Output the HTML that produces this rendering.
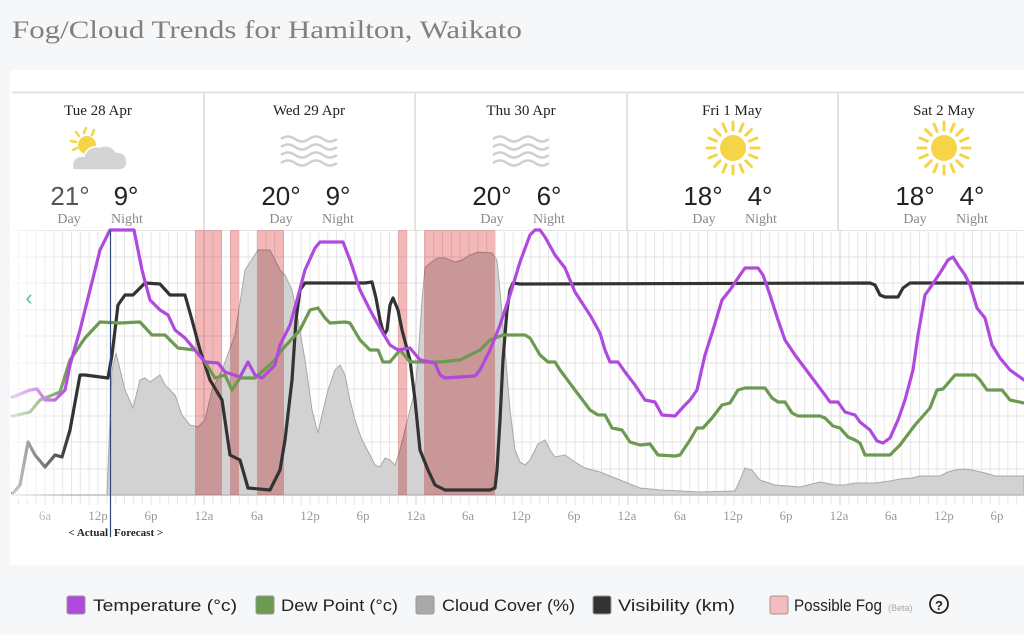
<!DOCTYPE html>
<html><head><meta charset="utf-8"><style>
body{margin:0;background:#f6f7f8;width:1024px;height:635px;overflow:hidden;font-family:"Liberation Serif",serif;}
svg{display:block}
</style></head><body>
<svg width="1024" height="635" viewBox="0 0 1024 635" xmlns="http://www.w3.org/2000/svg">
<defs>
<linearGradient id="fade" x1="0" x2="1" y1="0" y2="0">
<stop offset="0" stop-color="#fff" stop-opacity="0.75"/>
<stop offset="1" stop-color="#fff" stop-opacity="0"/>
</linearGradient>
</defs>
<rect width="1024" height="635" fill="#f6f7f8"/>
<text x="12" y="38" font-family="Liberation Serif,serif" font-size="25" fill="#808080" textLength="510" lengthAdjust="spacingAndGlyphs">Fog/Cloud Trends for Hamilton, Waikato</text>
<rect x="10" y="70" width="1014" height="495" fill="#fff"/>
<line x1="12" y1="92.5" x2="1024" y2="92.5" stroke="#e2e2e2" stroke-width="2"/>
<g stroke="#e2e2e2" stroke-width="2">
<line x1="204" y1="92" x2="204" y2="230"/><line x1="415" y1="92" x2="415" y2="230"/>
<line x1="627" y1="92" x2="627" y2="230"/><line x1="838" y1="92" x2="838" y2="230"/>
</g>
<g font-size="15" fill="#222" text-anchor="middle" font-family="Liberation Serif,serif">
<text x="98" y="115">Tue 28 Apr</text><text x="309" y="115">Wed 29 Apr</text>
<text x="521" y="115">Thu 30 Apr</text><text x="732" y="115">Fri 1 May</text><text x="944" y="115">Sat 2 May</text>
</g>
<!-- icons -->
<g stroke="#f5d547" stroke-width="2.5" stroke-linecap="round">
<line x1="86" y1="128" x2="84" y2="133"/><line x1="76" y1="132" x2="79" y2="136"/><line x1="71" y1="141" x2="76" y2="142"/><line x1="73" y1="150" x2="77" y2="148"/><line x1="94" y1="130" x2="92" y2="135"/>
</g>
<circle cx="87" cy="145" r="9" fill="#f5d547"/>
<path d="M73 170 Q70 156 84 156 Q88 145 100 147 Q110 143 116 152 Q127 152 127 162 Q127 170 118 170 Z" fill="#d4d4d4" stroke="#fff" stroke-width="1.5"/>
<g fill="none" stroke="#cfcfcf" stroke-width="2.5">
<path d="M281 139 q7 -5 14 0 q7 5 14 0 q7 -5 14 0 q7 5 14 0"/>
<path d="M281 147 q7 -5 14 0 q7 5 14 0 q7 -5 14 0 q7 5 14 0"/>
<path d="M281 155 q7 -5 14 0 q7 5 14 0 q7 -5 14 0 q7 5 14 0"/>
<path d="M281 163 q7 -5 14 0 q7 5 14 0 q7 -5 14 0 q7 5 14 0"/>
<path d="M493 139 q7 -5 14 0 q7 5 14 0 q7 -5 14 0 q7 5 14 0"/>
<path d="M493 147 q7 -5 14 0 q7 5 14 0 q7 -5 14 0 q7 5 14 0"/>
<path d="M493 155 q7 -5 14 0 q7 5 14 0 q7 -5 14 0 q7 5 14 0"/>
<path d="M493 163 q7 -5 14 0 q7 5 14 0 q7 -5 14 0 q7 5 14 0"/>
</g>
<g id="sun">
<circle cx="733" cy="148" r="13" fill="#f5d547"/>
<g stroke="#f5d547" stroke-width="3" stroke-linecap="round">
<line x1="733" y1="130" x2="733" y2="122"/><line x1="733" y1="166" x2="733" y2="174"/>
<line x1="715" y1="148" x2="707" y2="148"/><line x1="751" y1="148" x2="759" y2="148"/>
<line x1="745.7" y1="135.3" x2="751.4" y2="129.6"/><line x1="720.3" y1="160.7" x2="714.6" y2="166.4"/>
<line x1="720.3" y1="135.3" x2="714.6" y2="129.6"/><line x1="745.7" y1="160.7" x2="751.4" y2="166.4"/>
<line x1="739.9" y1="131.4" x2="743" y2="124"/><line x1="726.1" y1="164.6" x2="723" y2="172"/>
<line x1="726.1" y1="131.4" x2="723" y2="124"/><line x1="739.9" y1="164.6" x2="743" y2="172"/>
<line x1="716.4" y1="141.1" x2="709" y2="138"/><line x1="749.6" y1="154.9" x2="757" y2="158"/>
<line x1="749.6" y1="141.1" x2="757" y2="138"/><line x1="716.4" y1="154.9" x2="709" y2="158"/>
</g>
</g>
<use href="#sun" x="211" y="0"/>
<g font-family="Liberation Sans,sans-serif" font-size="26" text-anchor="middle" fill="#222">
<text x="70" y="205" fill="#555">21°</text><text x="126" y="205">9°</text>
<text x="281" y="205">20°</text><text x="338" y="205">9°</text>
<text x="492" y="205">20°</text><text x="549" y="205">6°</text>
<text x="703" y="205">18°</text><text x="760" y="205">4°</text>
<text x="915" y="205">18°</text><text x="972" y="205">4°</text>
</g>
<g font-size="14" text-anchor="middle" fill="#888">
<text x="69" y="223">Day</text><text x="127" y="223">Night</text>
<text x="281" y="223">Day</text><text x="338" y="223">Night</text>
<text x="492" y="223">Day</text><text x="549" y="223">Night</text>
<text x="704" y="223">Day</text><text x="761" y="223">Night</text>
<text x="915" y="223">Day</text><text x="972" y="223">Night</text>
</g>
<!-- grid -->
<g stroke="#e3e3e3" stroke-width="1">
<line x1="12" y1="230.5" x2="1024" y2="230.5"/><line x1="12" y1="257" x2="1024" y2="257"/><line x1="12" y1="283" x2="1024" y2="283"/>
<line x1="12" y1="310" x2="1024" y2="310"/><line x1="12" y1="336" x2="1024" y2="336"/><line x1="12" y1="363" x2="1024" y2="363"/>
<line x1="12" y1="389" x2="1024" y2="389"/><line x1="12" y1="416" x2="1024" y2="416"/><line x1="12" y1="442" x2="1024" y2="442"/>
<line x1="12" y1="469" x2="1024" y2="469"/>
</g>
<g stroke="#e6e6e6" stroke-width="1">
<line x1="18.5" y1="230" x2="18.5" y2="505"/><line x1="27.3" y1="230" x2="27.3" y2="505"/><line x1="36.2" y1="230" x2="36.2" y2="505"/><line x1="45" y1="230" x2="45" y2="505"/>
<line x1="53.8" y1="230" x2="53.8" y2="505"/><line x1="62.7" y1="230" x2="62.7" y2="505"/><line x1="71.5" y1="230" x2="71.5" y2="505"/><line x1="80.3" y1="230" x2="80.3" y2="505"/>
<line x1="89.2" y1="230" x2="89.2" y2="505"/><line x1="98" y1="230" x2="98" y2="505"/><line x1="106.8" y1="230" x2="106.8" y2="505"/><line x1="115.7" y1="230" x2="115.7" y2="505"/>
<line x1="124.5" y1="230" x2="124.5" y2="505"/><line x1="133.3" y1="230" x2="133.3" y2="505"/><line x1="142.2" y1="230" x2="142.2" y2="505"/><line x1="151" y1="230" x2="151" y2="505"/>
<line x1="159.8" y1="230" x2="159.8" y2="505"/><line x1="168.7" y1="230" x2="168.7" y2="505"/><line x1="177.5" y1="230" x2="177.5" y2="505"/><line x1="186.3" y1="230" x2="186.3" y2="505"/>
<line x1="195.2" y1="230" x2="195.2" y2="505"/><line x1="204" y1="230" x2="204" y2="505" stroke="#d0d0d0"/>
</g>
<g id="hours" stroke="#e6e6e6" stroke-width="1">
<line x1="212.8" y1="230" x2="212.8" y2="505"/><line x1="221.7" y1="230" x2="221.7" y2="505"/><line x1="230.5" y1="230" x2="230.5" y2="505"/><line x1="239.3" y1="230" x2="239.3" y2="505"/>
<line x1="248.2" y1="230" x2="248.2" y2="505"/><line x1="257" y1="230" x2="257" y2="505"/><line x1="265.8" y1="230" x2="265.8" y2="505"/><line x1="274.7" y1="230" x2="274.7" y2="505"/>
<line x1="283.5" y1="230" x2="283.5" y2="505"/><line x1="292.3" y1="230" x2="292.3" y2="505"/><line x1="301.2" y1="230" x2="301.2" y2="505"/><line x1="310" y1="230" x2="310" y2="505"/>
<line x1="318.8" y1="230" x2="318.8" y2="505"/><line x1="327.7" y1="230" x2="327.7" y2="505"/><line x1="336.5" y1="230" x2="336.5" y2="505"/><line x1="345.3" y1="230" x2="345.3" y2="505"/>
<line x1="354.2" y1="230" x2="354.2" y2="505"/><line x1="363" y1="230" x2="363" y2="505"/><line x1="371.8" y1="230" x2="371.8" y2="505"/><line x1="380.7" y1="230" x2="380.7" y2="505"/>
<line x1="389.5" y1="230" x2="389.5" y2="505"/><line x1="398.3" y1="230" x2="398.3" y2="505"/><line x1="407.2" y1="230" x2="407.2" y2="505"/><line x1="416" y1="230" x2="416" y2="505" stroke="#d0d0d0"/>
</g>
<use href="#hours" x="212"/><use href="#hours" x="424"/><use href="#hours" x="636"/>
<!-- cloud -->
<polygon fill="#d2d2d2" stroke="#a8a8a8" stroke-width="1" points="107,495 112,370 116,353 125,390 133,408 140,380 145,378 150,382 160,375 165,385 175,395 182,415 190,425 198,427 205,420 212,390 222,370 235,335 245,270 258,250 270,250 280,270 285,275 292,290 298,320 305,360 312,410 318,433 322,415 328,390 335,370 340,365 345,375 350,400 355,420 362,440 370,455 375,465 380,467 385,458 390,460 395,465 400,450 405,430 410,410 415,390 418,360 422,300 425,268 430,263 438,258 445,258 455,262 462,260 470,255 478,252 492,253 497,260 500,290 505,350 510,410 515,450 520,462 525,465 530,460 538,444 545,440 550,450 555,457 565,455 575,462 585,468 600,472 615,478 625,482 640,488 660,490 700,492 735,491 740,480 745,468 752,470 760,480 775,485 800,487 820,482 835,485 845,485 855,483 875,483 890,481 900,479 912,478 920,476 940,476 948,472 955,470 965,469 972,470 985,473 995,476 1024,476 1024,495"/>
<line x1="12" y1="495" x2="1024" y2="495" stroke="#bbb" stroke-width="1.5"/>
<!-- fog -->
<g fill="#f4b8b8" style="mix-blend-mode:multiply">
<rect x="195" y="230" width="27" height="265"/><rect x="230" y="230" width="9" height="265"/>
<rect x="257" y="230" width="27" height="265"/><rect x="398" y="230" width="9" height="265"/>
<rect x="424" y="230" width="71" height="265"/>
</g>
<g fill="none" stroke-width="3.2" stroke-linejoin="round" stroke-linecap="round">
<polyline stroke="#333" points="13,493 20,485 28,442 35,455 45,467 55,455 62,457 70,430 80,375 85,375 108,378 112,355 118,305 125,295 133,295 145,283 160,284 170,295 185,295 192,320 200,350 210,380 222,400 230,455 240,460 248,488 270,490 280,470 285,440 292,380 296,320 300,290 305,283 312,283 365,283 372,282 376,298 380,320 384,335 387,330 390,305 393,298 398,310 402,330 410,360 415,400 420,450 428,470 435,485 445,490 490,490 495,488 497,470 500,420 503,360 507,310 510,290 513,283 520,284 870,283 875,285 880,295 885,297 898,297 903,288 910,283 1024,283"/>
<polyline stroke="#6c9a50" points="13,416 30,412 40,400 60,392 70,360 85,338 100,322 120,323 140,322 152,335 165,335 178,348 195,350 205,362 215,378 225,375 232,390 240,378 255,378 275,360 280,352 300,330 310,310 318,308 325,318 330,323 345,322 350,323 360,340 370,350 378,350 383,362 390,362 400,350 410,362 420,362 440,362 460,360 480,350 490,340 503,335 525,335 530,338 540,355 548,362 555,362 560,370 575,390 590,410 598,415 605,415 612,428 622,430 630,442 640,445 650,444 658,455 675,456 680,455 690,440 697,428 703,428 712,418 722,405 730,403 738,390 745,388 765,388 772,398 778,402 785,402 792,413 798,416 820,416 825,418 833,426 840,428 848,437 855,440 860,443 865,455 890,455 900,445 915,425 930,408 937,390 943,389 955,375 975,375 980,380 987,390 1002,390 1010,400 1024,403"/>
<polyline stroke="#b04ade" points="13,397 30,390 37,389 45,400 55,400 65,390 70,365 80,330 90,290 100,250 110,230 134,230 142,270 150,300 160,310 168,315 175,330 185,338 195,350 205,362 218,363 225,372 240,377 248,362 255,375 262,378 275,365 280,345 290,325 297,300 305,270 315,248 320,242 343,242 350,260 360,290 370,310 380,328 390,345 398,350 410,348 420,360 435,363 440,375 445,378 475,376 480,370 490,350 500,325 510,295 520,262 530,235 535,230 540,230 545,237 555,255 565,268 575,292 590,315 600,333 605,350 610,362 618,362 625,372 635,385 645,400 655,402 662,415 675,416 685,405 690,400 697,390 705,355 713,330 722,300 730,290 740,275 745,268 758,268 763,275 770,295 778,320 785,340 795,355 810,375 825,395 830,402 838,402 845,412 855,415 860,422 870,430 877,441 883,443 890,438 898,420 905,400 913,370 918,335 925,295 930,288 940,273 948,260 953,257 958,265 965,275 970,285 977,308 985,318 992,345 1000,358 1010,370 1024,380"/>
</g>
<rect x="12" y="230" width="58" height="270" fill="url(#fade)"/>
<text x="29" y="305" font-family="Liberation Sans,sans-serif" font-size="22" fill="#5cc4a8" text-anchor="middle">‹</text>
<line x1="110.5" y1="230" x2="110.5" y2="537" stroke="#2e4a78" stroke-width="1.2"/>
<g font-size="13" fill="#999" text-anchor="middle">
<text x="45" y="520" fill="#bbb">6a</text><text x="98" y="520">12p</text><text x="151" y="520">6p</text><text x="204" y="520">12a</text>
<text x="257" y="520">6a</text><text x="310" y="520">12p</text><text x="363" y="520">6p</text><text x="416" y="520">12a</text>
<text x="468" y="520">6a</text><text x="521" y="520">12p</text><text x="574" y="520">6p</text><text x="627" y="520">12a</text>
<text x="680" y="520">6a</text><text x="733" y="520">12p</text><text x="786" y="520">6p</text><text x="839" y="520">12a</text>
<text x="891" y="520">6a</text><text x="944" y="520">12p</text><text x="997" y="520">6p</text>
</g>
<text x="108" y="536" font-size="11" font-weight="bold" fill="#222" text-anchor="end">&lt; Actual</text>
<text x="114" y="536" font-size="11" font-weight="bold" fill="#222">Forecast &gt;</text>
<!-- legend -->
<g font-family="Liberation Sans,sans-serif" font-size="17" fill="#222" lengthAdjust="spacingAndGlyphs">
<rect x="67" y="596" width="18" height="18" rx="2" fill="#b04ade" stroke="#999"/><text x="93" y="611" textLength="144" lengthAdjust="spacingAndGlyphs">Temperature (°c)</text>
<rect x="256" y="596" width="18" height="18" rx="2" fill="#6c9a50" stroke="#999"/><text x="281" y="611" textLength="117" lengthAdjust="spacingAndGlyphs">Dew Point (°c)</text>
<rect x="416" y="596" width="18" height="18" rx="2" fill="#a9a9a9" stroke="#999"/><text x="442" y="611" textLength="133" lengthAdjust="spacingAndGlyphs">Cloud Cover (%)</text>
<rect x="593" y="596" width="18" height="18" rx="2" fill="#333" stroke="#999"/><text x="618" y="611" textLength="117" lengthAdjust="spacingAndGlyphs">Visibility (km)</text>
<rect x="770" y="596" width="18" height="18" rx="2" fill="#f4bcbc" stroke="#999"/><text x="794" y="611" textLength="88" lengthAdjust="spacingAndGlyphs">Possible Fog</text>
<text x="888" y="611" font-size="9" fill="#aaa">(Beta)</text>
<circle cx="939" cy="604" r="9" fill="none" stroke="#222" stroke-width="1.8"/>
<text x="939" y="610" font-size="13" text-anchor="middle" font-weight="bold">?</text>
</g>
</svg>
</body></html>
